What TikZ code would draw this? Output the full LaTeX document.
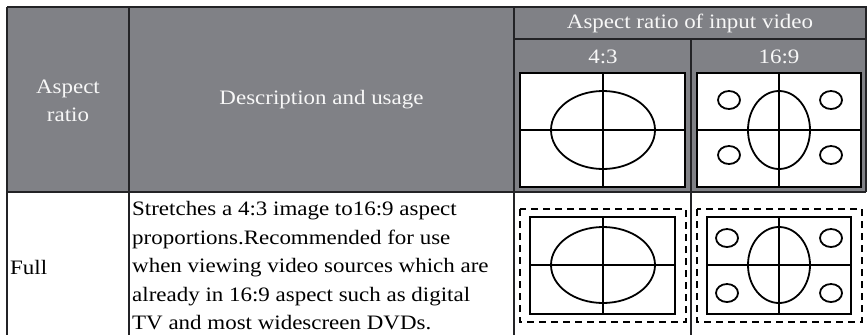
\documentclass[tikz,border=0pt]{standalone}
\usepackage{fontspec}
\setmainfont[FakeStretch=1.12]{Liberation Serif}
\definecolor{headgray}{RGB}{128,129,134}
\definecolor{rulegray}{RGB}{35,35,38}

\begin{document}
\begin{tikzpicture} [x=1pt, y=-1pt]
    \tikzstyle{every node}=[align = center, inner sep=3pt]
    \tikzstyle{rule} = [draw=rulegray, line width=1.6pt]
    \tikzstyle{headtext} = [text=white!94!gray, font=\fontsize{20.5}{28}\selectfont]
    \tikzstyle{bodytext} = [text=black, font=\fontsize{20.5}{28.5}\selectfont]
    \tikzstyle{screen} = [draw=black, line width=1.8pt]
    \tikzstyle{frame} = [draw=black, line width=1.8pt, dash pattern=on 7pt off 5pt]
    \useasboundingbox (0,0) rectangle (868,335);
    \fill[white] (0,0) rectangle (868,335);
    % header and body rows
    \fill[headgray] (7,7) rectangle (866,192);
    \draw[rule] (7,7) -- (866,7) -- (866,192);
    \draw[rule] (7,7) -- (7,335);
    \draw[rule] (129,7) -- (129,335);
    \draw[rule] (514,7) -- (514,335);
    \draw[rule] (691,39) -- (691,335);
    \draw[rule] (514,39) -- (866,39);
    \draw[rule] (7,192) -- (866,192);
    % header texts
    \node[headtext] (ratiohead) at (68,101) {Aspect\\ratio};
    \node[headtext] (deschead) at (321.5,100) {Description and usage};
    \node[headtext] (inputhead) at (690,23) {Aspect ratio of input video};
    \node[headtext] (fourthree) at (603,57) {4:3};
    \node[headtext] (sixteennine) at (779,57) {16:9};
    % header screens
    \filldraw[screen, fill=white] (520,73) rectangle (685,187);
    \draw[screen] (520,130) -- (685,130) (603,73) -- (603,187);
    \draw[screen] (603,130) ellipse [x radius=52, y radius=39];
    \filldraw[screen, fill=white] (697,73) rectangle (861,187);
    \draw[screen] (697,130) -- (861,130) (779,73) -- (779,187);
    \draw[screen] (779,130) ellipse [x radius=31, y radius=39];
    \foreach \ox in {729,831}
        \foreach \oy in {100,155}
            \draw[screen] (\ox,\oy) ellipse [x radius=11, y radius=9];
    % body row
    \node[bodytext, anchor=west] (fullcell) at (7,267) {Full};
    \node[bodytext, anchor=west, align=left] (usage) at (129,266)
        {Stretches a 4:3 image to16:9 aspect\\
         proportions.Recommended for use\\
         when viewing video sources which are\\
         already in 16:9 aspect such as digital\\
         TV and most widescreen DVDs.};
    \draw[frame] (520,209) rectangle (686,322);
    \draw[screen] (530,217) rectangle (675,314);
    \draw[screen] (530,265) -- (675,265) (603,217) -- (603,314);
    \draw[screen] (603,265) ellipse [x radius=52, y radius=38];
    \draw[frame] (697,209) rectangle (862,322);
    \draw[screen] (707,217) rectangle (851,314);
    \draw[screen] (707,265) -- (851,265) (779,217) -- (779,314);
    \draw[screen] (779,265) ellipse [x radius=31, y radius=38];
    \foreach \ox in {727,831}
        \foreach \oy in {238,293}
            \draw[screen] (\ox,\oy) ellipse [x radius=11, y radius=9];
\end{tikzpicture}
\end{document}
